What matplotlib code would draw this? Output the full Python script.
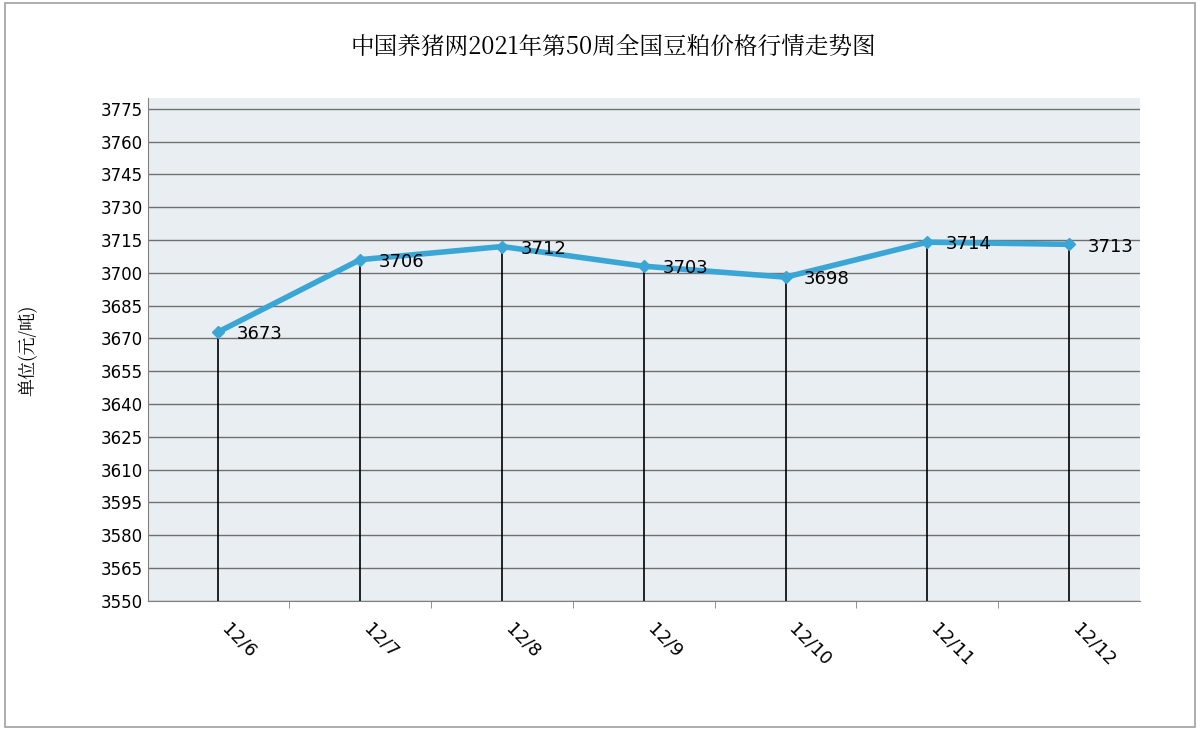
import matplotlib
matplotlib.use("Agg")
import matplotlib.pyplot as plt
from matplotlib.patches import Rectangle
from matplotlib import font_manager as fm

dates = ["12/6", "12/7", "12/8", "12/9", "12/10", "12/11", "12/12"]
prices = [3673, 3706, 3712, 3703, 3698, 3714, 3713]
yticks = list(range(3550, 3776, 15))

cjk_file = None
for f in fm.findSystemFonts():
    if "CJK" in f or "cjk" in f.lower():
        cjk_file = f
        if "SC" in f or "Regular" in f:
            break
if cjk_file:
    fm.fontManager.addfont(cjk_file)
    cjk = fm.FontProperties(fname=cjk_file)
    plt.rcParams["font.family"] = [cjk.get_name(), "DejaVu Sans"]
    title_fp = fm.FontProperties(fname=cjk_file, size=17, weight="bold")
    lab_fp = fm.FontProperties(fname=cjk_file, size=13)
else:
    title_fp = fm.FontProperties(family="Noto Sans CJK SC", size=17, weight="bold")
    lab_fp = fm.FontProperties(family="Noto Sans CJK SC", size=13)

fig = plt.figure(figsize=(12, 7.3), dpi=100)
fig.patches.append(Rectangle((0.004, 0.004), 0.992, 0.992, transform=fig.transFigure,
                             fill=False, edgecolor="#a0a0a0", lw=1.2))
ax = fig.add_axes([0.123, 0.177, 0.827, 0.689])
ax.set_facecolor("#e8eef2")
x = list(range(len(dates)))
ax.set_xlim(-0.5, len(dates) - 0.5)
ax.set_ylim(3550, 3780)
ax.set_yticks(yticks)
ax.set_yticklabels([str(v) for v in yticks], fontsize=12, family="DejaVu Sans")
ax.grid(axis="y", color="#707070", lw=1)
ax.set_axisbelow(True)
for xi, p in zip(x, prices):
    ax.vlines(xi, 3550, p, color="black", lw=1.2, zorder=2)
ax.plot(x, prices, color="#3aa6d6", lw=4, marker="D", markersize=6, zorder=3)
for xi, p in zip(x, prices):
    ax.text(xi + 0.13, p - 1, str(p), fontsize=13, va="center", ha="left", zorder=4,
            family="DejaVu Sans")
ax.set_xticks(x)
ax.set_xticklabels(dates, rotation=-45, ha="left", fontsize=13, family="DejaVu Sans")
ax.tick_params(axis="x", length=0, pad=14)
ax.set_xticks([i + 0.5 for i in x[:-1]], minor=True)
ax.tick_params(axis="x", which="minor", length=5, color="#808080")
ax.tick_params(axis="y", length=0)
for s in ["top", "right"]:
    ax.spines[s].set_visible(False)
ax.spines["left"].set_color("#808080")
ax.spines["bottom"].set_color("#808080")
fig.text(0.511, 0.935, "中国养猪网2021年第50周全国豆粕价格行情走势图", ha="center",
         va="center", fontproperties=title_fp)
fig.text(0.024, 0.52, "单位(元/吨)", rotation=90, ha="center", va="center", fontproperties=lab_fp)
fig.savefig("out.png")
